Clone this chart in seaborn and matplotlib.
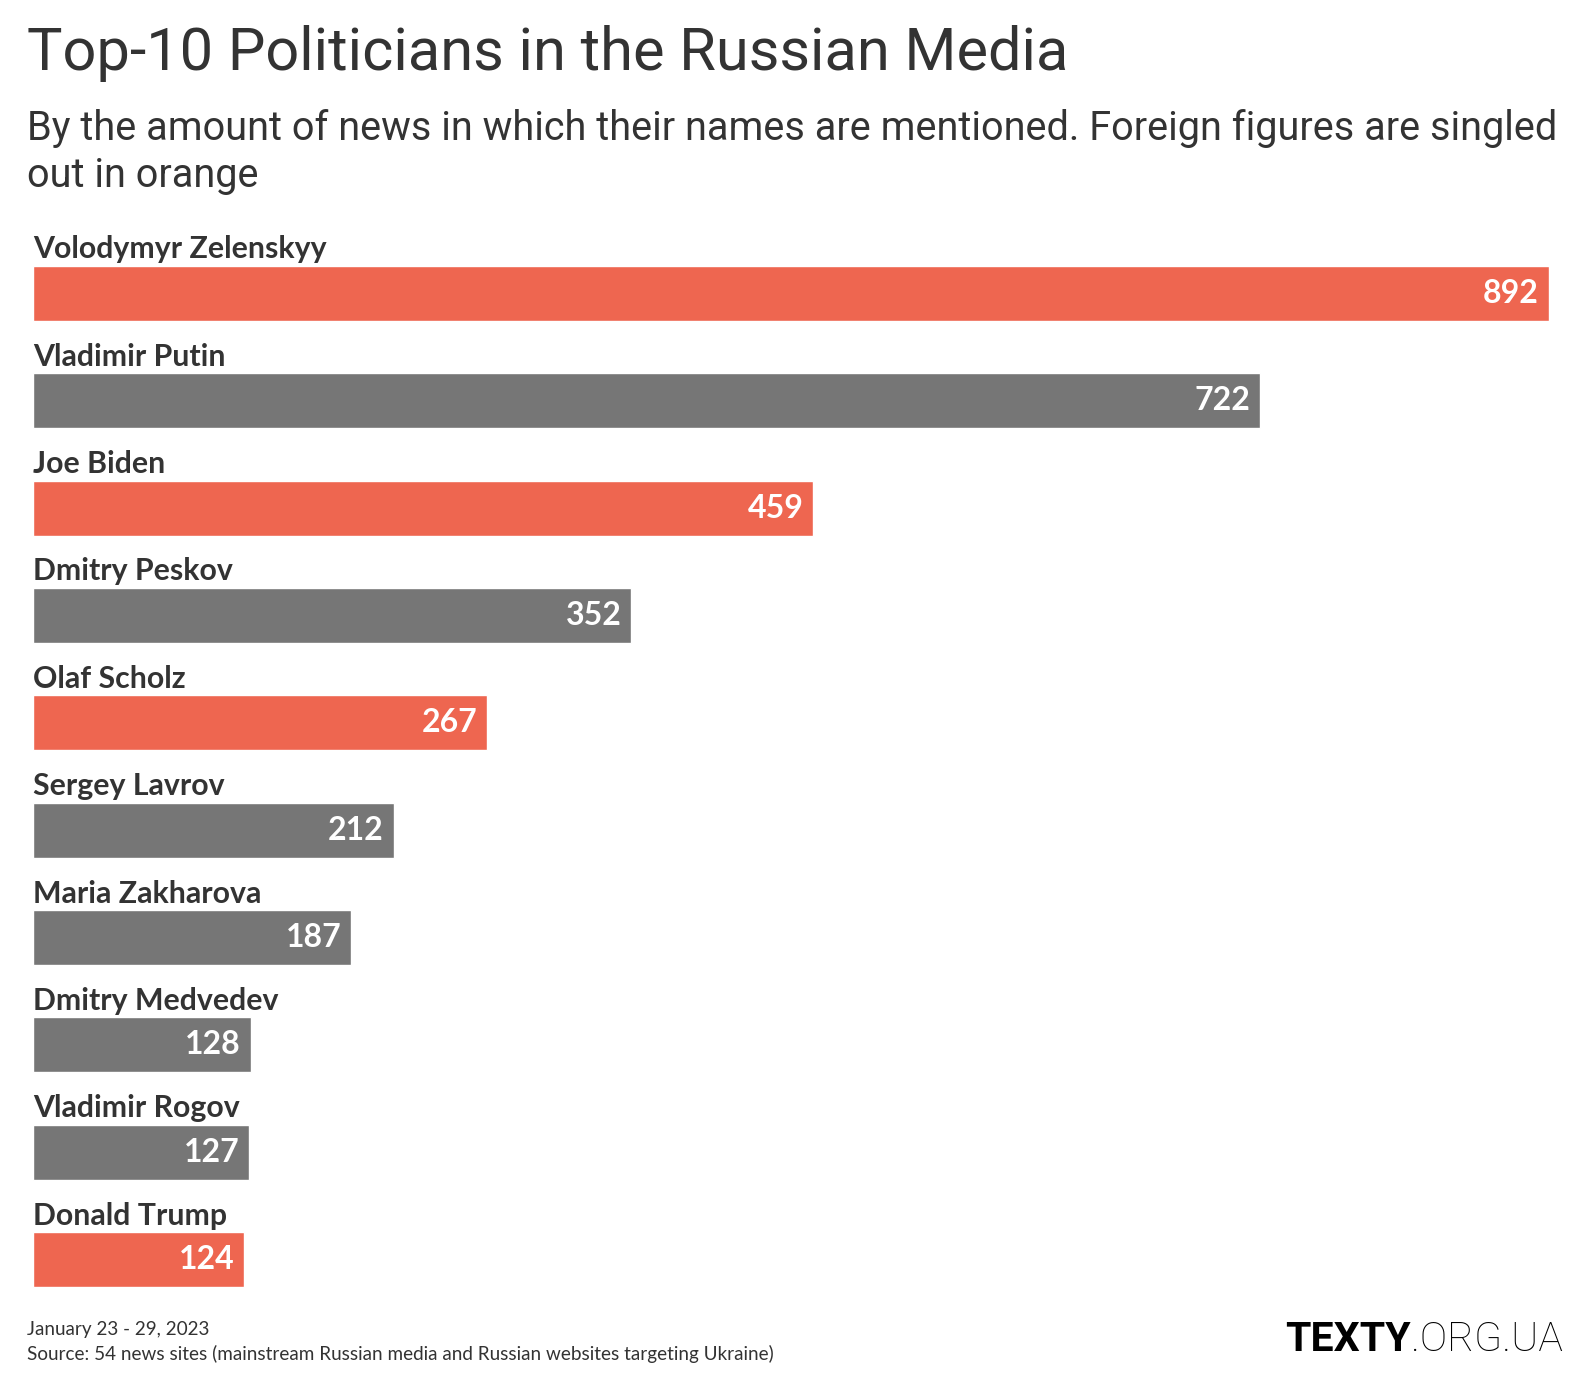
import matplotlib
matplotlib.use("Agg")
import matplotlib.pyplot as plt
import seaborn as sns
import pandas as pd

# Data
names = ["Volodymyr Zelenskyy", "Vladimir Putin", "Joe Biden", "Dmitry Peskov",
         "Olaf Scholz", "Sergey Lavrov", "Maria Zakharova", "Dmitry Medvedev",
         "Vladimir Rogov", "Donald Trump"]
mentions = [892, 722, 459, 352, 267, 212, 187, 128, 127, 124]
foreign = [True, False, True, False, True, False, False, False, False, True]

df = pd.DataFrame({"name": names, "mentions": mentions,
                   "group": ["foreign" if f else "russian" for f in foreign]})

ORANGE = "#ee6650"
GRAY = "#767676"
TXT = "#333333"

sns.set_theme(style="white")
plt.rcParams["font.family"] = ["Lato", "DejaVu Sans"]

W, H = 1586, 1394
fig = plt.figure(figsize=(W / 100, H / 100), dpi=100)
fig.patch.set_facecolor("white")

# axes placed so that 0..892 spans the bar area
left, right = 33.4 / W, 1548.6 / W
top, bottom = 1 - 239.8 / H, 1 - 1313.2 / H
ax = fig.add_axes([left, bottom, right - left, top - bottom])

sns.barplot(data=df, x="mentions", y="name", hue="group",
            palette={"foreign": ORANGE, "russian": GRAY},
            dodge=False, legend=False, width=0.51, saturation=1, ax=ax)

ax.set_xlim(0, 892)
ax.set_ylim(9.5, -0.5)
ax.axis("off")

for i, (n, v) in enumerate(zip(names, mentions)):
    ax.text(0, i - 0.41, n, ha="left", va="center", fontsize=21.8,
            fontweight="bold", color=TXT)
    ax.annotate(str(v), xy=(v, i), xytext=(-7, 0), textcoords="offset points",
                ha="right", va="center", fontsize=23, fontweight="bold",
                color="white")

# Title and subtitle
fig.text(27 / W, 1 - 54 / H, "Top-10 Politicians in the Russian Media",
         ha="left", va="center", fontsize=42.8, color=TXT, family="Roboto")
fig.text(27 / W, 1 - 152 / H,
         "By the amount of news in which their names are mentioned. Foreign figures are singled\nout in orange",
         ha="left", va="center", fontsize=28.5, color=TXT, family="Roboto",
         linespacing=1.27)

# Footer
fig.text(27 / W, 1 - 1329 / H, "January 23 - 29, 2023", ha="left", va="center",
         fontsize=13.6, color=TXT)
fig.text(27 / W, 1 - 1354 / H,
         "Source: 54 news sites (mainstream Russian media and Russian websites targeting Ukraine)",
         ha="left", va="center", fontsize=13.6, color=TXT)

t2 = fig.text(1563 / W, 1 - 1340 / H, ".ORG.UA", ha="right", va="center",
              fontsize=29.5, fontweight="light", color="black", family="Roboto")
fig.canvas.draw()
bb = t2.get_window_extent()
fig.text(bb.x0 / W, 1 - 1340 / H, "TEXTY", ha="right", va="center",
         fontsize=29.5, fontweight="bold", color="black", family="Roboto")

fig.savefig("out.png", dpi=100, facecolor="white")
